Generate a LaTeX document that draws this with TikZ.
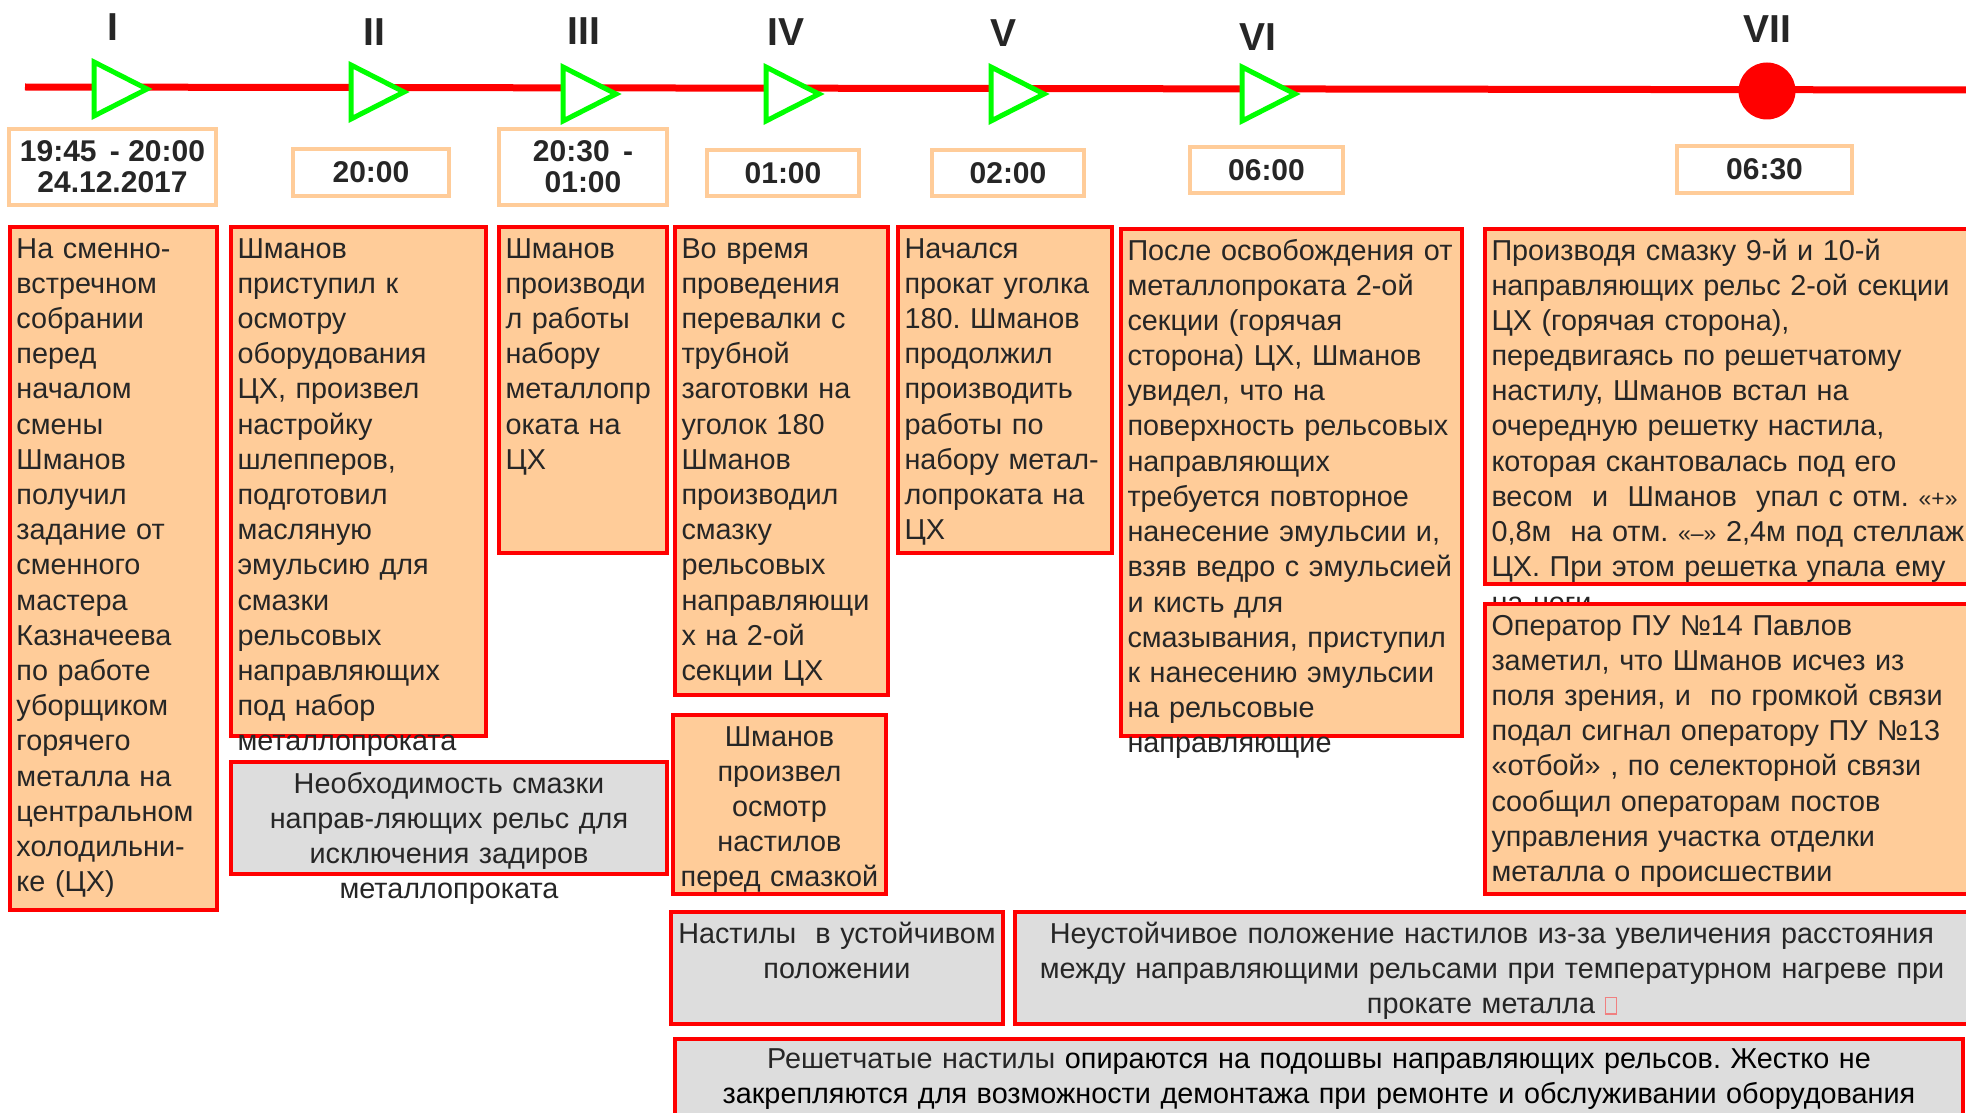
\documentclass[tikz,border=0pt]{standalone}
\usepackage{fontspec}
\setmainfont{Liberation Sans}
\frenchspacing

\definecolor{evred}{HTML}{FF0000}
\definecolor{evfill}{HTML}{FFCC99}
\definecolor{causefill}{HTML}{DDDDDD}
\definecolor{tborder}{HTML}{FFCC99}
\definecolor{mkgreen}{HTML}{00FF00}
\definecolor{txtgray}{HTML}{262626}
\definecolor{glyphred}{HTML}{F08080}

\newcommand\evfont{\fontsize{14.4pt}{17.6pt}\selectfont}
\newcommand\quotefont{\fontsize{11.5pt}{17.6pt}\selectfont}
\newcommand\timefont{\fontsize{15pt}{15.5pt}\selectfont\bfseries}
\newcommand\stagefont{\fontsize{19.5pt}{20pt}\selectfont\bfseries}

\begin{document}
\begin{tikzpicture}[x=0.5pt, y=-0.5pt,
    event/.style={draw=evred, fill=evfill, line width=2.2pt, anchor=north west, outer sep=0pt,
        inner xsep=3.25pt, inner ysep=2pt, text height=13.5pt, align=left,
        font=\evfont, text=txtgray},
    cause/.style={event, fill=causefill, align=center},
    timebox/.style={draw=tborder, fill=white, line width=2pt, outer sep=0pt, inner sep=0pt,
        font=\timefont, text=txtgray, align=center},
    stage/.style={font=\stagefont, text=txtgray},
    marker/.style={draw=mkgreen, fill=white, line width=2.5pt, line join=miter}]

    % Frame
    \useasboundingbox (0,0) rectangle (1966,1113);
    \clip (0,0) rectangle (1966,1113);

    % Time axis
    \coordinate (start) at (25,87);
    \coordinate (end) at (1975,90);
    \draw[evred, line width=3.5pt] (start) -- (end);

    % Stage markers
    \foreach \x/\y in {94/62, 351/65, 563/67, 766/67, 991/67, 1242/67}
        \draw[marker] (\x,\y) -- ++(53,27) -- ++(-53,27) -- cycle;
    \node[circle, fill=evred, minimum size=28.5pt, inner sep=0pt] (stop) at (1767,91) {};

    % Stage numbers
    \node[stage] (s1) at (113,27) {I};
    \node[stage] (s2) at (374,32) {II};
    \node[stage] (s3) at (584,31) {III};
    \node[stage] (s4) at (786,32) {IV};
    \node[stage] (s5) at (1003,33) {V};
    \node[stage] (s6) at (1258,37) {VI};
    \node[stage] (s7) at (1767,29) {VII};

    % Times
    \node[timebox, minimum width=103.5pt, minimum height=38pt] (t1) at (112.5,167) {19:45 \,- 20:00\\24.12.2017};
    \node[timebox, minimum width=78pt, minimum height=23.5pt] (t2) at (371,172.5) {20:00};
    \node[timebox, minimum width=84pt, minimum height=38pt] (t3) at (583,167) {20:30 \,-\\01:00};
    \node[timebox, minimum width=76pt, minimum height=23pt] (t4) at (783,173) {01:00};
    \node[timebox, minimum width=76pt, minimum height=23pt] (t5) at (1008,173) {02:00};
    \node[timebox, minimum width=76.5pt, minimum height=23pt] (t6) at (1266.5,170) {06:00};
    \node[timebox, minimum width=87.5pt, minimum height=23.5pt] (t7) at (1764.5,169.5) {06:30};

    % Events
    \node[event, text width=97pt, text depth=324pt] (ev1) at (10,227)
        {На сменно-\\встречном\\собрании\\перед\\началом\\смены\\Шманов\\получил\\задание от\\сменного\\мастера\\Казначеева\\по работе\\уборщиком\\горячего\\металла на\\центральном\\холодильни-\\ке (ЦХ)};
    \node[event, text width=121pt, text depth=237pt] (ev2) at (231,227)
        {Шманов\\приступил к\\осмотру\\оборудования\\ЦХ, произвел\\настройку\\шлепперов,\\подготовил\\масляную\\эмульсию для\\смазки\\рельсовых\\направляющих\\под набор\\металлопроката};
    \node[event, text width=77.5pt, text depth=145.5pt] (ev3) at (499,227)
        {Шманов\\производи\\л работы\\набору\\металлопр\\оката на\\ЦХ};
    \node[event, text width=100pt, text depth=216.5pt] (ev4) at (675,227)
        {Во время\\проведения\\перевалки с\\трубной\\заготовки на\\уголок 180\\Шманов\\производил\\смазку\\рельсовых\\направляющи\\х на 2-ой\\секции ЦХ};
    \node[event, align=center, text width=100pt, text depth=72pt] (ev4b) at (673,715)
        {Шманов\\произвел\\осмотр\\настилов\\перед смазкой};
    \node[event, text width=100.5pt, text depth=145.5pt] (ev5) at (898,227)
        {Начался\\прокат уголка\\180. Шманов\\продолжил\\производить\\работы по\\набору метал-\\лопроката на\\ЦХ};
    \node[event, text width=164pt, text depth=236pt] (ev6) at (1121,229)
        {После освобождения от\\металлопроката 2-ой\\секции (горячая\\сторона) ЦХ, Шманов\\увидел, что на\\поверхность рельсовых\\направляющих\\требуется повторное\\нанесение эмульсии и,\\взяв ведро с эмульсией\\и кисть для\\смазывания, приступил\\к нанесению эмульсии\\на рельсовые\\направляющие};
    \node[event, text width=238.5pt, text depth=160pt] (ev7) at (1485,229)
        {Производя смазку 9-й и 10-й\\направляющих рельс 2-ой секции\\ЦХ (горячая сторона),\\передвигаясь по решетчатому\\настилу, Шманов встал на\\очередную решетку настила,\\которая скантовалась под его\\весом \ и \ Шманов \ упал с отм. {\quotefont«+»}\\0,8м \ на отм. {\quotefont«–»} 2,4м под стеллаж\\ЦХ. При этом решетка упала ему\\на ноги};
    \node[event, text width=238.5pt, text depth=127.5pt] (ev7b) at (1485,604)
        {Оператор ПУ №14 Павлов\\заметил, что Шманов исчез из\\поля зрения, и \ по громкой связи\\подал сигнал оператору ПУ №13\\«отбой» , по селекторной связи\\сообщил операторам постов\\управления участка отделки\\металла о происшествии};

    % Causes
    \node[cause, text width=211.5pt, text depth=38.5pt] (c1) at (231,762)
        {Необходимость смазки\\направ-ляющих рельс для\\исключения задиров\\металлопроката};
    \node[cause, text width=159.5pt, text depth=38.5pt] (c2) at (671,912)
        {Настилы \ в устойчивом\\положении};
    \node[cause, text width=470.5pt, text depth=38.5pt] (c3) at (1015,912)
        {Неустойчивое положение настилов из-за увеличения расстояния\\между направляющими рельсами при температурном нагреве при\\прокате металла {\color{glyphred}\fboxsep=0pt\fboxrule=0.6pt\fbox{\rule{0pt}{7.5pt}\hspace{5pt}}}};
    \node[cause, text=black, text width=637.5pt, text height=12.5pt, text depth=30pt] (c4) at (675,1039)
        {{\color{txtgray}Решетчатые настилы} опираются на подошвы направляющих рельсов. Жестко не\\закрепляются для возможности демонтажа при ремонте и обслуживании оборудования};
\end{tikzpicture}
\end{document}
